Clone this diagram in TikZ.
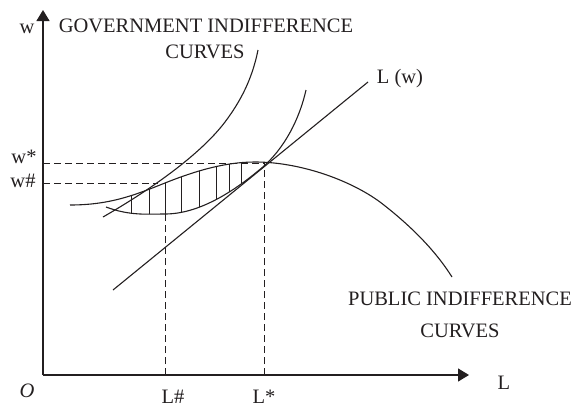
\documentclass[tikz,border=0pt]{standalone}
\usepackage{fontspec}
\setmainfont{Liberation Serif}
\usetikzlibrary{arrows.meta}
\definecolor{ink}{HTML}{231F20}
\begin{document}
\begin{tikzpicture}[x=1pt,y=-1pt,
  curve/.style={ink, line width=1.1pt},
  axis/.style={ink, line width=1.3pt, -{Triangle[length=11pt,width=13pt]}},
  guide/.style={ink, line width=1pt, dash pattern=on 7pt off 4pt},
  hatchline/.style={ink, line width=1pt},
  lbl/.style={ink, inner sep=0pt, anchor=base, font=\fontsize{20.5}{24}\selectfont}]
\useasboundingbox (0,0) rectangle (572,407);
% key points
\coordinate (O) at (43,375);
\coordinate (ytop) at (43,10);
\coordinate (xend) at (469,375);
\coordinate (Pstar) at (264,163);
\coordinate (wstar) at (43,163);
\coordinate (Lstar) at (264,375);
\coordinate (Phash) at (158,183);
\coordinate (whash) at (43,183);
\coordinate (Lhashtop) at (165,184);
\coordinate (Lhash) at (165,375);
\coordinate (Lw0) at (113,290);
\coordinate (Lw1) at (368,82);
% axes
\draw[axis] (O) -- (ytop);
\draw[axis] (O) -- (xend);
% guides
\draw[guide] (wstar) -- (Pstar);
\draw[guide] (Lstar) -- (Pstar);
\draw[guide] (whash) -- (Phash);
\draw[guide] (Lhash) -- (Lhashtop);
% hatching of the lens
\begin{scope}
  \clip (70,205) .. controls (110,205) and (135,195) .. (165,183)
        .. controls (195,171) and (225,162) .. (255,162)
        .. controls (300,162) and (350,180) .. (380,202)
        -- (380,300) -- (70,300) -- cycle;
  \clip (106,207) .. controls (130,216) and (148,214) .. (165,214)
        .. controls (200,214) and (235,190) .. (258,171)
        .. controls (280,154) and (298,125) .. (306,90)
        -- (306,0) -- (106,0) -- cycle;
  \foreach \hx in {131,149,165,181,199,216,229,241}
    \draw[hatchline] (\hx,140) -- (\hx,230);
\end{scope}
% L(w) line
\draw[curve] (Lw0) -- (Lw1);
% public indifference curve
\draw[curve] (70,205) .. controls (110,205) and (135,195) .. (165,183)
      .. controls (195,171) and (225,162) .. (255,162)
      .. controls (300,162) and (350,180) .. (380,202)
      .. controls (410,225) and (435,250) .. (452,277);
% government indifference curves
\draw[curve] (103,217) .. controls (150,190) and (200,155) .. (225,122)
      .. controls (240,102) and (252,80) .. (258,50);
\draw[curve] (106,207) .. controls (130,216) and (148,214) .. (165,214)
      .. controls (200,214) and (235,190) .. (258,171)
      .. controls (280,154) and (298,125) .. (306,90);
% labels
\node[lbl] (wlab) at (27,33) {w};
\node[lbl] (wstarlab) at (24,163) {w*};
\node[lbl] (whashlab) at (23,187) {w\#};
\node[lbl, font=\fontsize{20.5}{24}\selectfont\itshape] (Olab) at (27,397) {O};
\node[lbl] (Lhashlab) at (173,403) {L\#};
\node[lbl] (Lstarlab) at (264,403) {L*};
\node[lbl] (Llab) at (504,389) {L};
\node[lbl] (Lwlab) at (400,83) {L (w)};
\node[lbl] (govA) at (206,32) {GOVERNMENT INDIFFERENCE};
\node[lbl] (govB) at (205,58) {CURVES};
\node[lbl] (pubA) at (460,305) {PUBLIC INDIFFERENCE};
\node[lbl] (pubB) at (460,337) {CURVES};
\end{tikzpicture}
\end{document}
